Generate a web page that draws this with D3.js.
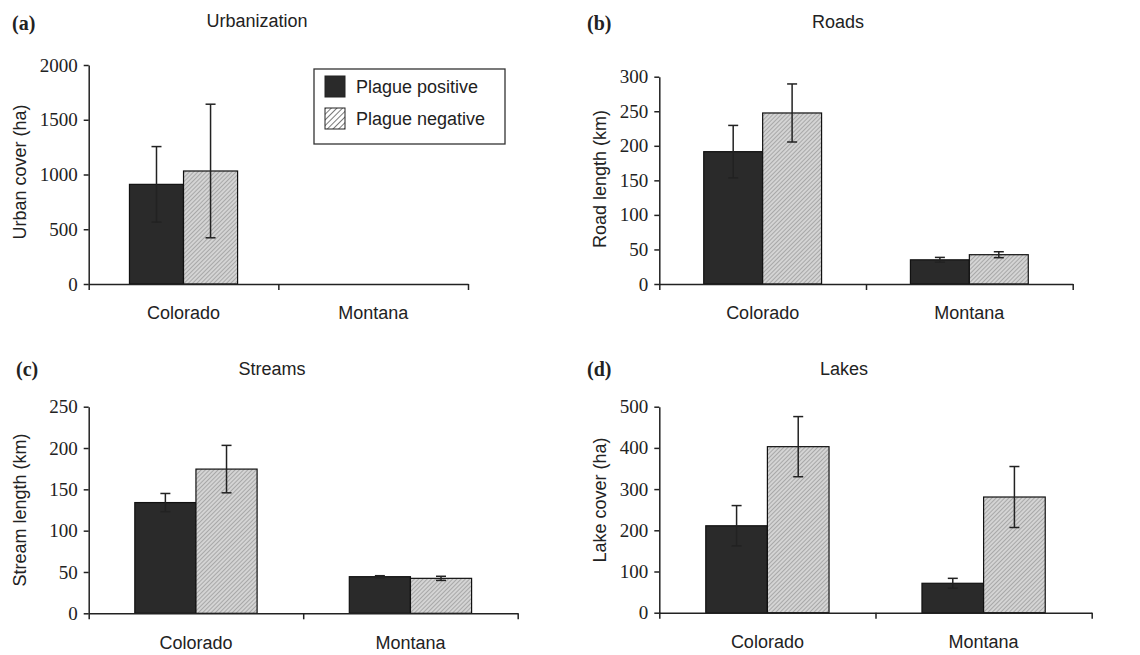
<!DOCTYPE html>
<html>
<head>
<meta charset="utf-8">
<script src="https://cdn.jsdelivr.net/npm/d3@7"></script>
<style>
  body { margin: 0; background: #fff; }
  svg { display: block; }
  .tick text { font-family: "Liberation Serif", "Times New Roman", serif; font-size: 19px; fill: #222; }
  .domain, .tick line { stroke: #222; stroke-width: 1.5px; }
  .sans { font-family: "Liberation Sans", Arial, sans-serif; font-size: 18px; fill: #222; }
  .panelTag { font-family: "Liberation Serif", "Times New Roman", serif; font-size: 20px; font-weight: bold; fill: #222; }
</style>
</head>
<body>
<svg id="chart" width="1140" height="655"></svg>
<script>
// categories and series
const states = ["Colorado", "Montana"];
const groups = ["Plague positive", "Plague negative"];

// (a) urbanization, ha  (no Montana data)
const urbanPos = [910, null];
const urbanPosErr = [345, null];
const urbanNeg = [1032, null];
const urbanNegErr = [610, null];
const urbanTicks = [0, 500, 1000, 1500, 2000];

// (b) roads, km
const roadPos = [191.5, 35];
const roadPosErr = [38, 3.5];
const roadNeg = [247.5, 42.4];
const roadNegErr = [42, 4.3];
const roadTicks = [0, 50, 100, 150, 200, 250, 300];

// (c) streams, km
const streamPos = [134, 44.3];
const streamPosErr = [11, 1.2];
const streamNeg = [174.5, 42.3];
const streamNegErr = [28.7, 2.5];
const streamTicks = [0, 50, 100, 150, 200, 250];

// (d) lakes, ha
const lakePos = [211, 71.4];
const lakePosErr = [49, 12];
const lakeNeg = [403, 280.8];
const lakeNegErr = [73, 74];
const lakeTicks = [0, 100, 200, 300, 400, 500];

const svg = d3.select("#chart");

const defs = svg.append("defs");
// fine hatch for bars
const fine = defs.append("pattern")
  .attr("id", "fineHatch")
  .attr("patternUnits", "userSpaceOnUse")
  .attr("width", 3).attr("height", 3)
  .attr("patternTransform", "rotate(45)");
fine.append("rect").attr("width", 3).attr("height", 3).attr("fill", "#d4d4d4");
fine.append("line").attr("x1", 0).attr("y1", 0).attr("x2", 0).attr("y2", 3)
  .attr("stroke", "#8a8a8a").attr("stroke-width", 1.2);
// coarser hatch for legend swatch
const coarse = defs.append("pattern")
  .attr("id", "coarseHatch")
  .attr("patternUnits", "userSpaceOnUse")
  .attr("width", 4).attr("height", 4)
  .attr("patternTransform", "rotate(45)");
coarse.append("rect").attr("width", 4).attr("height", 4).attr("fill", "#fff");
coarse.append("line").attr("x1", 0).attr("y1", 0).attr("x2", 0).attr("y2", 4)
  .attr("stroke", "#333").attr("stroke-width", 1.3);

const fills = ["#2a2a2a", "url(#fineHatch)"];

const panels = [
  { tag: "(a)", title: "Urbanization", ylabel: "Urban cover (ha)",
    pos: urbanPos, posErr: urbanPosErr, neg: urbanNeg, negErr: urbanNegErr, ticks: urbanTicks,
    x0: 88.7, x1: 468, y0: 284, y1: 65, titleX: 257, titleY: 21, tagX: 12, tagY: 30, ylabX: 20, ylabY: 172 },
  { tag: "(b)", title: "Roads", ylabel: "Road length (km)",
    pos: roadPos, posErr: roadPosErr, neg: roadNeg, negErr: roadNegErr, ticks: roadTicks,
    x0: 659.3, x1: 1072.7, y0: 284, y1: 76.7, titleX: 838, titleY: 22, tagX: 587, tagY: 30, ylabX: 600, ylabY: 179 },
  { tag: "(c)", title: "Streams", ylabel: "Stream length (km)",
    pos: streamPos, posErr: streamPosErr, neg: streamNeg, negErr: streamNegErr, ticks: streamTicks,
    x0: 88.7, x1: 517.7, y0: 613.3, y1: 406.7, titleX: 272, titleY: 369, tagX: 16, tagY: 376, ylabX: 20, ylabY: 510 },
  { tag: "(d)", title: "Lakes", ylabel: "Lake cover (ha)",
    pos: lakePos, posErr: lakePosErr, neg: lakeNeg, negErr: lakeNegErr, ticks: lakeTicks,
    x0: 659.3, x1: 1091.7, y0: 612.7, y1: 406.7, titleX: 844, titleY: 369, tagX: 587, tagY: 376, ylabX: 600, ylabY: 500 }
];

panels.forEach(p => {
  const g = svg.append("g");
  const yMax = p.ticks[p.ticks.length - 1];

  const x = d3.scaleBand().domain(states).range([p.x0, p.x1]).padding(0);
  const xs = d3.scaleBand().domain(groups).range([0, x.bandwidth()])
    .paddingInner(0).paddingOuter(0.754);
  const y = d3.scaleLinear().domain([0, yMax]).range([p.y0, p.y1]);

  const rows = [];
  states.forEach((s, i) => {
    [[p.pos, p.posErr], [p.neg, p.negErr]].forEach((arr, k) => {
      if (arr[0][i] != null) rows.push({ state: s, group: groups[k], k: k, v: arr[0][i], e: arr[1][i] });
    });
  });

  g.selectAll("rect.bar").data(rows).enter().append("rect")
    .attr("class", "bar")
    .attr("x", d => x(d.state) + xs(d.group))
    .attr("y", d => y(d.v))
    .attr("width", xs.bandwidth())
    .attr("height", d => y(0) - y(d.v))
    .attr("fill", d => fills[d.k])
    .attr("stroke", "#111")
    .attr("stroke-width", 1.2);

  // error bars
  const eb = g.selectAll("g.err").data(rows).enter().append("g")
    .attr("class", "err")
    .attr("stroke", "#222")
    .attr("stroke-width", 1.5);
  const cx = d => x(d.state) + xs(d.group) + xs.bandwidth() / 2;
  eb.append("line")
    .attr("x1", cx).attr("x2", cx)
    .attr("y1", d => y(d.v + d.e)).attr("y2", d => y(d.v - d.e));
  eb.append("line")
    .attr("x1", d => cx(d) - 5).attr("x2", d => cx(d) + 5)
    .attr("y1", d => y(d.v + d.e)).attr("y2", d => y(d.v + d.e));
  eb.append("line")
    .attr("x1", d => cx(d) - 5).attr("x2", d => cx(d) + 5)
    .attr("y1", d => y(d.v - d.e)).attr("y2", d => y(d.v - d.e));

  // y axis
  g.append("g")
    .attr("transform", "translate(" + p.x0 + ",0)")
    .call(d3.axisLeft(y).tickValues(p.ticks).tickSize(5).tickSizeOuter(0).tickPadding(6).tickFormat(d3.format("d")));

  // x axis, ticks on category boundaries
  const xb = d3.scaleLinear().domain([0, states.length]).range([p.x0, p.x1]);
  g.append("g")
    .attr("transform", "translate(0," + p.y0 + ")")
    .call(d3.axisBottom(xb).tickValues([0, 1, 2]).tickSize(6).tickSizeOuter(0).tickFormat(""));

  g.selectAll("text.cat").data(states).enter().append("text")
    .attr("class", "sans")
    .attr("x", d => x(d) + x.bandwidth() / 2)
    .attr("y", p.y0 + 29)
    .attr("dy", "0.35em")
    .attr("text-anchor", "middle")
    .text(d => d);

  g.append("text").attr("class", "sans")
    .attr("x", p.titleX).attr("y", p.titleY).attr("dy", "0.35em")
    .attr("text-anchor", "middle").text(p.title);

  g.append("text").attr("class", "panelTag")
    .attr("x", p.tagX).attr("y", p.tagY).text(p.tag);

  g.append("text").attr("class", "sans")
    .attr("transform", "translate(" + p.ylabX + "," + p.ylabY + ") rotate(-90)")
    .attr("dy", "0.35em")
    .attr("text-anchor", "middle").text(p.ylabel);
});

// legend in panel (a)
const legend = svg.append("g").attr("transform", "translate(314,69)");
legend.append("rect")
  .attr("width", 191).attr("height", 75)
  .attr("fill", "#fff").attr("stroke", "#333").attr("stroke-width", 1.3);
const legendFills = ["#2a2a2a", "url(#coarseHatch)"];
const li = legend.selectAll("g.item").data(groups).enter().append("g")
  .attr("transform", (d, i) => "translate(11," + (7 + i * 32) + ")");
li.append("rect")
  .attr("width", 20).attr("height", 21)
  .attr("fill", (d, i) => legendFills[i])
  .attr("stroke", "#222").attr("stroke-width", 1);
li.append("text").attr("class", "sans")
  .attr("x", 31).attr("y", 11).attr("dy", "0.35em")
  .text(d => d);
</script>
</body>
</html>
